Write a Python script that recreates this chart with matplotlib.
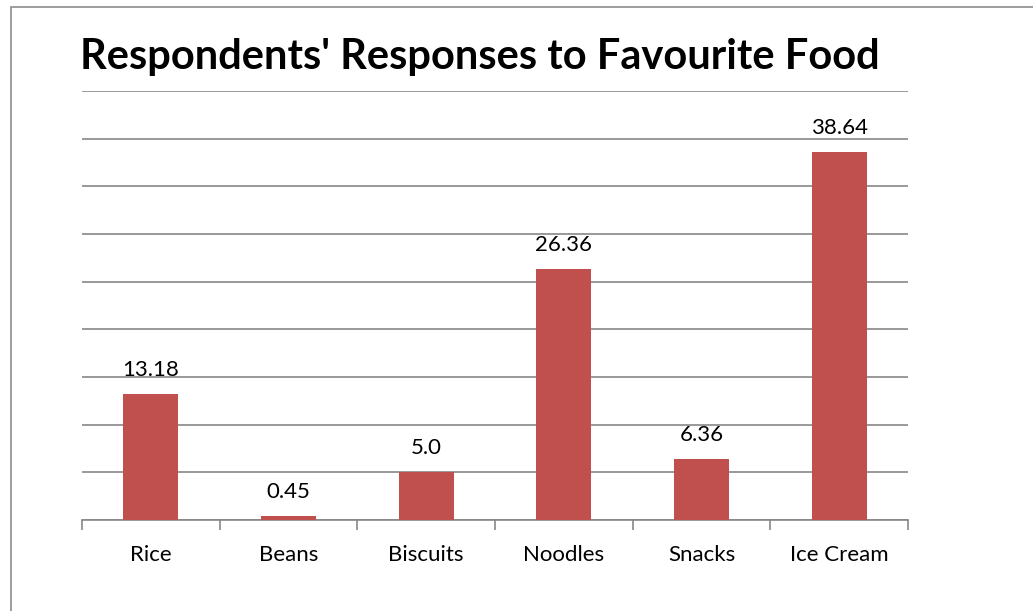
import matplotlib
matplotlib.use("Agg")
import matplotlib.pyplot as plt
from matplotlib.patches import Rectangle

categories = ["Rice", "Beans", "Biscuits", "Noodles", "Snacks", "Ice Cream"]
values = [13.18, 0.45, 5.0, 26.36, 6.36, 38.64]
value_labels = ["13.18", "0.45", "5.0", "26.36", "6.36", "38.64"]
title = "Respondents' Responses to Favourite Food"

plt.rcParams['font.family'] = ['Lato', 'DejaVu Sans']

W, H = 1033, 611
fig = plt.figure(figsize=(W / 100, H / 100), dpi=100)

# outer frame
fig.patches.append(Rectangle((11 / W, -0.1), 1.2, 1 - 7 / H + 0.1, transform=fig.transFigure,
                             fill=False, edgecolor="#8c8c8c", linewidth=1.2))

ax = fig.add_axes([82 / W, (H - 520) / H, (908 - 82) / W, (520 - 91) / H])
x = list(range(len(categories)))
ax.bar(x, values, width=0.4, color="#C0504D", zorder=3)
ax.set_xlim(-0.5, len(categories) - 0.5)
ax.set_ylim(0, 45)
ax.set_yticks(range(0, 46, 5))
ax.yaxis.grid(True, color="#878787", linewidth=1.2)
ax.tick_params(axis='y', left=False, labelleft=False)
for s in ["left", "right", "top"]:
    ax.spines[s].set_visible(False)
ax.spines["bottom"].set_color("#878787")
ax.spines["bottom"].set_linewidth(1.2)
ax.set_xticks(x)
ax.set_xticklabels(categories, fontsize=16)
ax.tick_params(axis='x', length=0, pad=18)
ax.set_xticks([i - 0.5 for i in range(len(categories) + 1)], minor=True)
ax.tick_params(axis='x', which='minor', length=7, color="#878787", width=1.2)

for xi, v, lab in zip(x, values, value_labels):
    ax.annotate(lab, (xi, v), xytext=(0, 10), textcoords="offset points",
                ha="center", va="bottom", fontsize=16)

fig.text(480 / W, 1 - 57 / H, title, ha="center", va="center", fontsize=30, fontweight="bold")

fig.savefig("out.png", dpi=100)
